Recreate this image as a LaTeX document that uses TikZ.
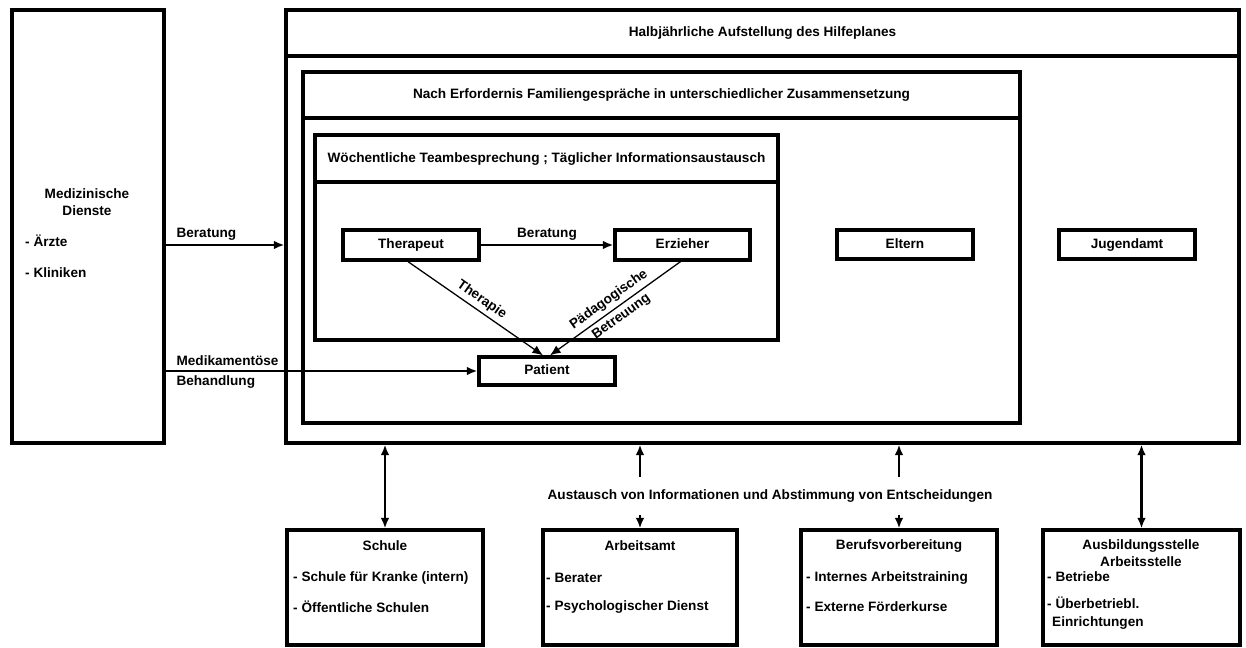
\documentclass[tikz,border=0pt]{standalone}
\usepackage{fontspec}
\setmainfont{Liberation Sans}
\usetikzlibrary{
  arrows.meta,
  positioning,
  fit,
  calc}

\begin{document}
\begin{tikzpicture}[
  x=0.03cm,y=-0.03cm,
  >={Latex[length=9pt,width=7.5pt]},
  font=\fontsize{11.6}{14}\selectfont\bfseries,
  box/.style={draw,line width=2.8pt,inner sep=0pt},
  every label/.append style={text height=1.6ex,text depth=0.4ex},
  flow/.style={->,line width=2pt},
  link/.style={->,line width=1.1pt},
  both/.style={<->,line width=2.4pt},
  item/.style={anchor=west,inner sep=0pt}
]%
  \useasboundingbox (0,0) rectangle (1246,648);

  % Medizinische Dienste
  \node[box,fit={(12,10) (164,443)}] (med) {};
  \node[align=center] (medt) at (87,202) {Medizinische\\Dienste};
  \node[item] (med1) at (25,241) {- Ärzte};
  \node[item] (med2) at (25,273) {- Kliniken};

  % Hilfeplan
  \node[box,fit={(286,10) (1239,443)}] (plan) {};
  \node[box,fit={(286,10) (1239,56)},label=center:{Halbjährliche Aufstellung des Hilfeplanes}] (planh) {};

  % Familiengespraeche
  \node[box,fit={(303,72) (1020,423)}] (fam) {};
  \node[box,fit={(303,72) (1020,118)},label=center:{Nach Erfordernis Familiengespräche in unterschiedlicher Zusammensetzung}] (famh) {};

  % Team
  \node[box,fit={(315,135) (778,340)}] (team) {};
  \node[box,fit={(315,135) (778,182)},label=center:{Wöchentliche Teambesprechung ; Täglicher Informationsaustausch}] (teamh) {};

  \node[box,fit={(343,230) (479,260)},label=center:Therapeut] (ther) {};
  \node[box,fit={(615,230) (750,260)},label=center:Erzieher] (erz) {};
  \node[box,fit={(479,357) (615,385)},label=center:Patient] (pat) {};
  \node[box,fit={(837,230) (973,259)},label=center:Eltern] (elt) {};
  \node[box,fit={(1059,230) (1195,259)},label=center:Jugendamt] (jug) {};

  \draw[flow] (ther) -- (erz) node[midway,above] {Beratung};
  \draw[link] ($(ther.south)+(-3,0)$) -- ($(pat.north)+(-4,0)$)
    node[midway,above,sloped] {Therapie};
  \draw[link] ($(erz.south)+(-2,0)$) -- ($(pat.north)+(3,0)$)
    node[midway,above,sloped] {Pädagogische}
    node[midway,below,sloped] {Betreuung};

  \draw[flow] (med.east |- ther) -- (plan.west |- ther)
    node[pos=0,anchor=south west,xshift=5pt] {Beratung};
  \draw[flow] (med.east |- pat) -- (pat.west)
    node[pos=0,anchor=south west,xshift=5pt] {Medikamentöse}
    node[pos=0,anchor=north west,xshift=5pt] {Behandlung};

  % Partner unten
  \node[box,fit={(287,530) (483,645)}] (sch) {};
  \node[box,fit={(543,530) (737,645)}] (arb) {};
  \node[box,fit={(801,530) (997,645)}] (ber) {};
  \node[box,fit={(1043,530) (1240,645)}] (ausb) {};

  \node (scht) at (385,546) {Schule};
  \node[item] (sch1) at (293,578) {- Schule für Kranke (intern)};
  \node[item] (sch2) at (293,607) {- Öffentliche Schulen};

  \node (arbt) at (640,546) {Arbeitsamt};
  \node[item] (arb1) at (546,578) {- Berater};
  \node[item] (arb2) at (546,607) {- Psychologischer Dienst};

  \node (bert) at (899,546) {Berufsvorbereitung};
  \node[item] (ber1) at (806,578) {- Internes Arbeitstraining};
  \node[item] (ber2) at (806,607) {- Externe Förderkurse};

  \node[align=center] (ausbt) at (1141,553) {Ausbildungsstelle\\Arbeitsstelle};
  \node[item] (ausb1) at (1047,577) {- Betriebe};
  \node[item] (ausb2) at (1047,603) {- Überbetriebl.};
  \node[item] (ausb3) at (1052,623) {Einrichtungen};

  \node[minimum height=32pt,inner sep=0pt] (exch) at (770,496)
    {Austausch von Informationen und Abstimmung von Entscheidungen};

  \draw[both] (plan.south -| sch) -- (sch.north);
  \draw[both] (plan.south -| ausb) -- (ausb.north);
  \draw[<-,line width=2.4pt] (plan.south -| arb) -- (exch.north -| arb);
  \draw[->,line width=2.4pt] (exch.south -| arb) -- (arb.north);
  \draw[<-,line width=2.4pt] (plan.south -| ber) -- (exch.north -| ber);
  \draw[->,line width=2.4pt] (exch.south -| ber) -- (ber.north);
\end{tikzpicture}
\end{document}
